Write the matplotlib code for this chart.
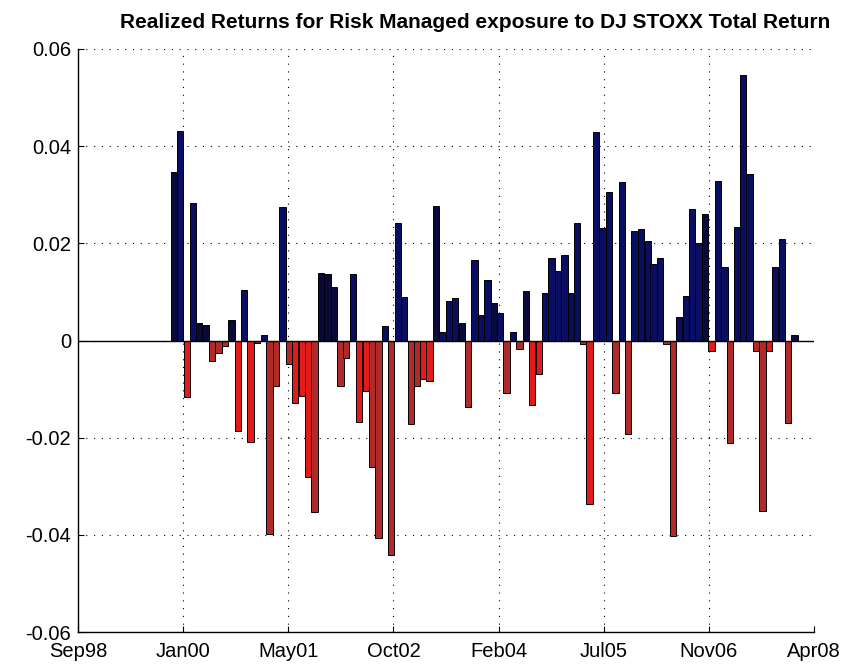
import matplotlib
matplotlib.use("Agg")
import matplotlib.pyplot as plt
import numpy as np
import pandas as pd

plt.rcParams['font.family'] = ['Liberation Sans', 'DejaVu Sans']

# ---- data ----
title = "Realized Returns for Risk Managed exposure to DJ STOXX Total Return"
start_month = "1999-11-30"
returns = [
    0.0347, 0.0432, -0.0116, 0.0284, 0.0035, 0.0032, -0.0042, -0.0026, -0.0011, 0.0043,
    -0.0187, 0.0104, -0.0209, -0.0005, 0.0011, -0.0399, -0.0094, 0.0274, -0.0049, -0.0128,
    -0.0114, -0.0281, -0.0354, 0.0139, 0.0136, 0.0111, -0.0094, -0.0036, 0.0136, -0.0167,
    -0.0104, -0.0261, -0.0406, 0.0029, -0.0441, 0.0242, 0.0090, -0.0172, -0.0094, -0.0079,
    -0.0084, 0.0277, 0.0017, 0.0081, 0.0088, 0.0035, -0.0137, 0.0166, 0.0053, 0.0125,
    0.0077, 0.0056, -0.0108, 0.0018, -0.0018, 0.0101, -0.0133, -0.0069, 0.0098, 0.0170,
    0.0143, 0.0177, 0.0098, 0.0242, -0.0008, -0.0337, 0.0429, 0.0232, 0.0305, -0.0108,
    0.0326, -0.0192, 0.0225, 0.0229, 0.0205, 0.0157, 0.0170, -0.0007, -0.0403, 0.0049,
    0.0091, 0.0271, 0.0201, 0.0260, -0.0022, 0.0329, 0.0152, -0.0212, 0.0233, 0.0547,
    0.0343, -0.0022, -0.0350, -0.0022, 0.0152, 0.0208, -0.0170, 0.0011,
]
# shade variant per bar (0 = primary, 1 = alternate)
shade = [
    1, 0, 0, 0, 1, 1, 1, 1, 1, 1,
    0, 0, 0, 1, 0, 1, 1, 0, 1, 0,
    0, 0, 1, 1, 1, 1, 1, 1, 0, 0,
    0, 1, 1, 0, 1, 0, 0, 1, 1, 0,
    0, 1, 0, 0, 0, 1, 1, 0, 0, 0,
    1, 0, 1, 0, 1, 1, 0, 0, 0, 0,
    0, 0, 0, 0, 1, 0, 0, 0, 0, 1,
    0, 1, 0, 0, 0, 0, 0, 1, 1, 0,
    0, 0, 0, 1, 0, 0, 0, 1, 0, 0,
    0, 1, 1, 0, 0, 0, 1, 1,
]
x_start = "1998-09-01"
x_end = "2008-04-01"
n_ticks = 8
y_ticks = [-0.06, -0.04, -0.02, 0, 0.02, 0.04, 0.06]
y_tick_labels = ["-0.06", "-0.04", "-0.02", "0", "0.02", "0.04", "0.06"]

# ---- plot ----
dates = pd.date_range(start_month, periods=len(returns), freq="ME")
vals = np.array(returns)
pos_cols = ["#0a0e62", "#0a0a3a"]
neg_cols = ["#e4191c", "#b02a2a"]
colors = [(pos_cols if v >= 0 else neg_cols)[s] for v, s in zip(vals, shade)]

fig = plt.figure(figsize=(8.59, 6.64), dpi=100)
ax = fig.add_axes([78/859, 1-632/664, (814-78)/859, (632-49)/664])

ax.bar(dates, vals, width=30, color=colors, edgecolor="black", linewidth=0.7,
       align="center", zorder=3)

x0 = pd.Timestamp(x_start)
x1 = pd.Timestamp(x_end)
tick_dates = [x0 + (x1 - x0) * k / (n_ticks - 1) for k in range(n_ticks)]
ax.set_xlim(x0, x1)
ax.set_xticks(tick_dates)
ax.set_xticklabels([d.strftime("%b%y") for d in tick_dates])
ax.set_ylim(-0.06, 0.06)
ax.set_yticks(y_ticks)
ax.set_yticklabels(y_tick_labels)

ax.axhline(0, color="black", linewidth=1.0, zorder=4)

ax.grid(True, color="black", linestyle=(0, (1, 6)), linewidth=0.8, zorder=0)
for s in ["top", "right"]:
    ax.spines[s].set_visible(False)
for s in ["left", "bottom"]:
    ax.spines[s].set_linewidth(1.0)
ax.tick_params(direction="in", length=4, width=0.8, labelsize=14.5)
ax.tick_params(axis="x", pad=7.5)
ax.tick_params(axis="y", pad=5)

fig.text(475/859, 1-22/664, title, ha="center", va="center",
         fontsize=15, fontweight="bold")

fig.savefig("out.png", dpi=100)
